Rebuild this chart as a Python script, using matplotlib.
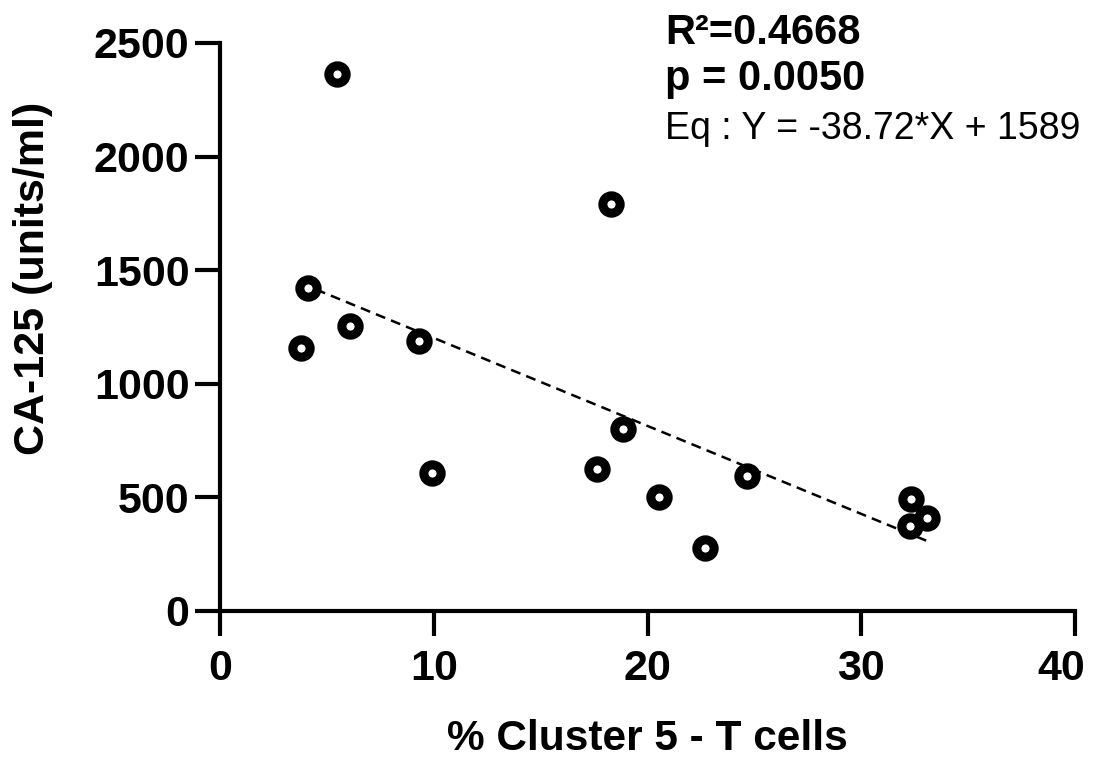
import numpy as np
import matplotlib
matplotlib.use('Agg')
import matplotlib.pyplot as plt
import matplotlib.transforms as mtransforms

plt.rcParams['font.family'] = ['Liberation Sans', 'DejaVu Sans']

# % Cluster 5 - T cells vs CA-125 (units/ml)
cluster5_pct = [3.78, 4.11, 5.49, 6.09, 9.31, 9.94, 17.66, 18.27,
                18.87, 20.56, 22.67, 24.66, 32.27, 32.35, 33.07]
ca125 = [1156, 1423, 2362, 1254, 1190, 609, 624, 1790,
         800, 503, 276, 594, 374, 494, 408]

# linear fit as reported on the chart
slope = -38.72
intercept = 1589
r2_text = 'R\u00b2=0.4668'
p_text = 'p = 0.0050'
eq_text = 'Eq : Y = -38.72*X + 1589'

x_ticks = [0, 10, 20, 30, 40]
y_ticks = [0, 500, 1000, 1500, 2000, 2500]

fig = plt.figure(figsize=(11.13, 7.6), dpi=100)
ax = fig.add_axes([220/1113, 1-611/760, 855/1113, 568/760])

x = np.array(cluster5_pct)
y = np.array(ca125)

# regression line over the data range
xfit = np.array([x.min(), x.max()])
ax.plot(xfit, slope*xfit + intercept, color='black', lw=1.8,
        linestyle=(0, (4, 2.5)), zorder=2)

ax.plot(x, y, linestyle='none', marker='o', markersize=12.5,
        markeredgewidth=6.5, markerfacecolor='white', markeredgecolor='black',
        zorder=3, clip_on=False)

ax.set_xlim(0, 40)
ax.set_ylim(0, 2500)
ax.set_xticks(x_ticks)
ax.set_yticks(y_ticks)

for side in ['top', 'right']:
    ax.spines[side].set_visible(False)
for side in ['left', 'bottom']:
    ax.spines[side].set_linewidth(3)

ax.tick_params(axis='both', which='major', length=18, width=3, direction='out')
ax.tick_params(axis='x', labelsize=31, pad=9)
ax.tick_params(axis='y', labelsize=31, pad=4)
for lab in ax.get_xticklabels() + ax.get_yticklabels():
    lab.set_fontweight('bold')
# last x label sits slightly left, as in the original
last = ax.get_xticklabels()[-1]
last.set_transform(last.get_transform() +
                   mtransforms.ScaledTranslation(-14/100, 0, fig.dpi_scale_trans))

ax.set_xlabel('% Cluster 5 - T cells', fontsize=30.5, fontweight='bold')
ax.xaxis.set_label_coords(0.5, -0.19)
ax.text(-0.219, 0.586, 'CA-125 (units/ml)', transform=ax.transAxes,
        rotation=90, ha='center', va='center', fontsize=31, fontweight='bold')

ax.text(0.5205, (611-44)/568, r2_text, transform=ax.transAxes, fontsize=30,
        fontweight='bold', va='baseline', ha='left')
ax.text(0.5205, (611-90)/568, p_text, transform=ax.transAxes, fontsize=30,
        fontweight='bold', va='baseline', ha='left')
ax.text(0.5205, (611-139)/568, eq_text, transform=ax.transAxes, fontsize=27,
        va='baseline', ha='left')

fig.savefig('out.png', dpi=100)
